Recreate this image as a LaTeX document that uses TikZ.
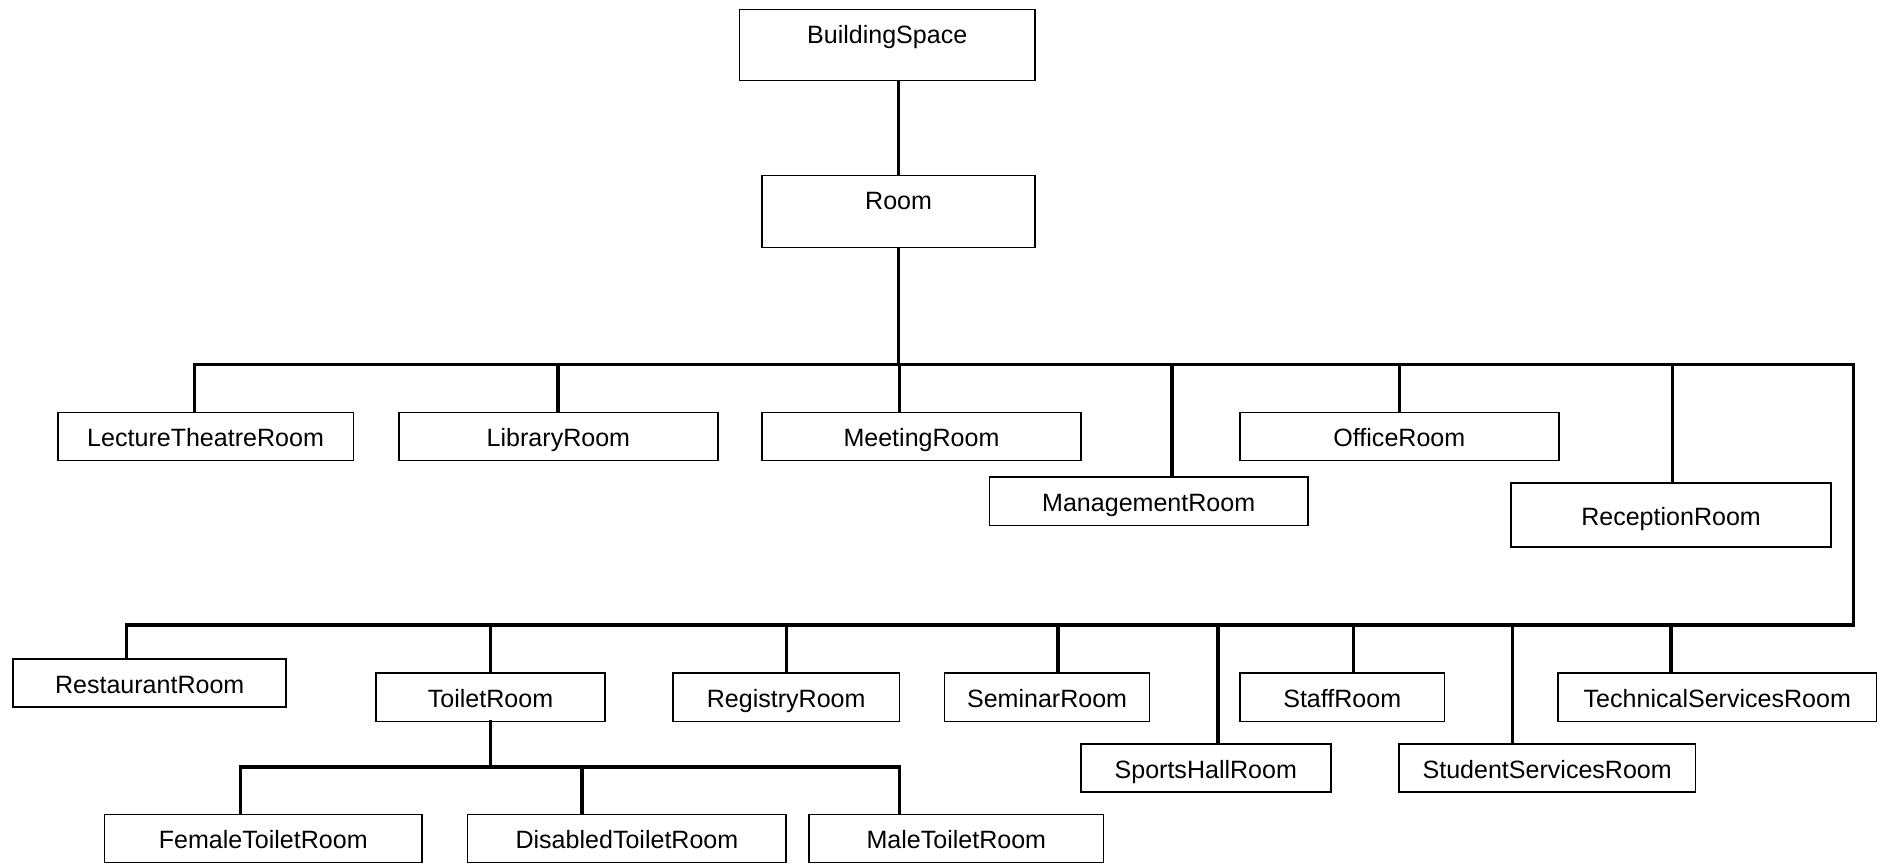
\documentclass[tikz,border=0pt]{standalone}
\usepackage{fontspec}
\setmainfont{Liberation Sans}
\usepackage{tikz}

\tikzset{
  cls/.style={draw, line width=0.8pt, inner sep=0pt, minimum height=24pt,
    text height=10.4pt, text depth=0pt, font=\fontsize{12.5}{14}\selectfont},
  topcls/.style={cls, minimum height=0pt, text height=16.8pt, text depth=#1},
  link/.style={line width=1.7pt, line cap=rect},
}

\begin{document}
\begin{tikzpicture}[x=0.6pt, y=-0.6pt]
  \useasboundingbox (0,0) rectangle (1568,718);

  \node[topcls=18.6pt, minimum width=147.6pt] (bs)   at (738,37.5) {BuildingSpace};
  \node[topcls=19.2pt, minimum width=136.2pt] (room) at (747.5,176) {Room};

  \node[cls, minimum width=147.6pt] (lecture)    at (171,363)    {LectureTheatreRoom};
  \node[cls, minimum width=159pt]   (library)    at (464.5,363)  {LibraryRoom};
  \node[cls, minimum width=159pt]   (meeting)    at (766.5,363)  {MeetingRoom};
  \node[cls, minimum width=159pt]   (management) at (955.5,417)  {ManagementRoom};
  \node[cls, minimum width=159.3pt] (office)     at (1164,363)   {OfficeRoom};
  \node[cls, minimum width=159.9pt, minimum height=31.8pt] (reception) at (1390,428.5) {ReceptionRoom};

  \node[cls, minimum width=136.2pt] (restaurant) at (124.5,568)  {RestaurantRoom};
  \node[cls, minimum width=114pt]   (toilet)     at (408,580)    {ToiletRoom};
  \node[cls, minimum width=113.1pt] (registry)   at (654,580)    {RegistryRoom};
  \node[cls, minimum width=102.3pt] (seminar)    at (871,580)    {SeminarRoom};
  \node[cls, minimum width=124.8pt] (sports)     at (1003,639)   {SportsHallRoom};
  \node[cls, minimum width=102pt]   (staff)      at (1116.5,580) {StaffRoom};
  \node[cls, minimum width=147.9pt] (student)    at (1287,639)   {StudentServicesRoom};
  \node[cls, minimum width=159pt]   (technical)  at (1428.5,580) {TechnicalServicesRoom};

  \node[cls, minimum width=158.4pt] (female)   at (219,697.5)   {FemaleToiletRoom};
  \node[cls, minimum width=159pt]   (disabled) at (521.5,697.5) {DisabledToiletRoom};
  \node[cls, minimum width=147pt]   (male)     at (795.5,697.5) {MaleToiletRoom};

  \coordinate (tl) at (162,303);
  \coordinate (tr) at (1542,303);
  \coordinate (br) at (1542,520);
  \coordinate (bl) at (105,520);
  \coordinate (wl) at (200,638);
  \coordinate (wr) at (748,638);

  \draw[link] (bs.south -| room.north) -- (room.north);
  \draw[link] (room.south) -- (room.south |- tl);
  \draw[link] (tl) -- (tr) -- (br) -- (bl);
  \draw[link] (toilet.south) -- (toilet.south |- wl);
  \draw[link] (wl) -- (wr);

  \foreach \n/\x in {lecture/162, library/464, meeting/748, management/975,
                     office/1164, reception/1391}
    \draw[link] (\x,303) -- (\n.north -| \x,303);
  \foreach \n/\x in {restaurant/105, toilet/408, registry/654, seminar/880,
                     sports/1013, staff/1126, student/1258, technical/1390}
    \draw[link] (\x,520) -- (\n.north -| \x,520);
  \foreach \n/\x in {female/200, disabled/484, male/748}
    \draw[link] (\x,638) -- (\n.north -| \x,638);
\end{tikzpicture}
\end{document}
